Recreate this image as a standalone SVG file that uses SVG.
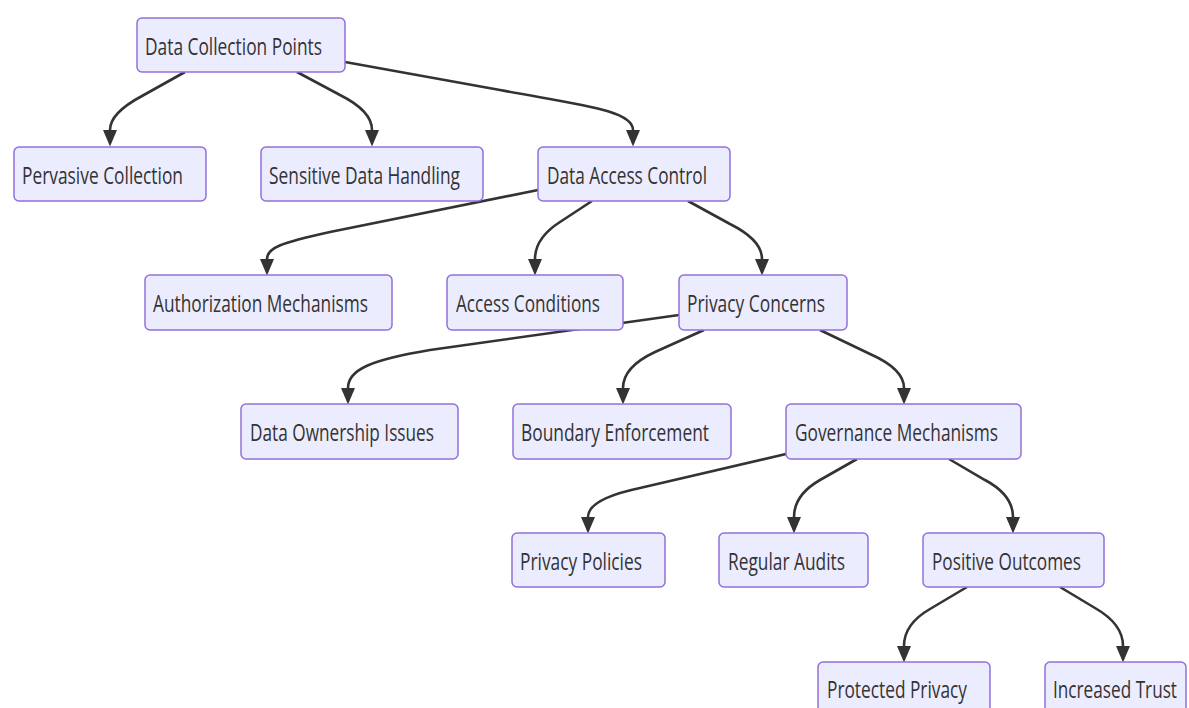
<svg xmlns="http://www.w3.org/2000/svg" width="1189" height="708" viewBox="0 0 1189 708">
<style>
.node rect{fill:#ECECFF;stroke:#9370DB;stroke-width:1.5}
.node text{font-family:"Open Sans","Noto Sans",sans-serif;font-size:23.5px;fill:#333}
.edges path{fill:none;stroke:#333;stroke-width:2.6}
</style>
<defs>
<marker id="arr" markerUnits="userSpaceOnUse" markerWidth="18" markerHeight="15" refX="0" refY="7" orient="auto">
<path d="M0,0 L16.5,7 L0,14 z" fill="#333"/>
</marker>
</defs>
<rect width="1189" height="708" fill="#fff"/>
<g class="edges">
<path d="M185,72 L142,96 Q110,113 110,130" marker-end="url(#arr)"/>
<path d="M297,72 L340,95 Q372,111 372,130" marker-end="url(#arr)"/>
<path d="M345,62 L500,90 C580,105 633,110 633,130" marker-end="url(#arr)"/>
<path d="M538,190 L330,232 C280,243 267,248 267,259" marker-end="url(#arr)"/>
<path d="M592,201 L560,222 Q535,238 535,259" marker-end="url(#arr)"/>
<path d="M688,201 L730,224 Q762,240 762,259" marker-end="url(#arr)"/>
<path d="M679,315 L430,350 C370,360 348,370 348,388" marker-end="url(#arr)"/>
<path d="M704,330 L655,352 Q623,367 623,388" marker-end="url(#arr)"/>
<path d="M820,330 L870,354 Q904,369 904,388" marker-end="url(#arr)"/>
<path d="M786,454 L640,488 Q588,499 588,517" marker-end="url(#arr)"/>
<path d="M857,459 L820,480 Q794,495 794,517" marker-end="url(#arr)"/>
<path d="M949,459 L985,480 Q1013,495 1013,517" marker-end="url(#arr)"/>
<path d="M967,587 L930,609 Q904,624 904,646" marker-end="url(#arr)"/>
<path d="M1060,587 L1095,608 Q1123,624 1123,646" marker-end="url(#arr)"/>
</g>
<g id="dcp" class="node"><rect x="137" y="18" width="208" height="54" rx="5"/><text x="145" y="54.5" textLength="177" lengthAdjust="spacingAndGlyphs">Data Collection Points</text></g>
<g id="pervasive" class="node"><rect x="14" y="147" width="192" height="54" rx="5"/><text x="22" y="183.5" textLength="161" lengthAdjust="spacingAndGlyphs">Pervasive Collection</text></g>
<g id="sensitive" class="node"><rect x="261" y="147" width="222" height="54" rx="5"/><text x="269" y="183.5" textLength="191" lengthAdjust="spacingAndGlyphs">Sensitive Data Handling</text></g>
<g id="dac" class="node"><rect x="538" y="147" width="192" height="54" rx="5"/><text x="547" y="183.5" textLength="160" lengthAdjust="spacingAndGlyphs">Data Access Control</text></g>
<g id="auth" class="node"><rect x="145" y="275" width="247" height="55" rx="5"/><text x="153" y="312" textLength="215" lengthAdjust="spacingAndGlyphs">Authorization Mechanisms</text></g>
<g id="accesscond" class="node"><rect x="447" y="275" width="176" height="55" rx="5"/><text x="456" y="312" textLength="144" lengthAdjust="spacingAndGlyphs">Access Conditions</text></g>
<g id="privconcern" class="node"><rect x="679" y="275" width="168" height="55" rx="5"/><text x="687" y="312" textLength="138" lengthAdjust="spacingAndGlyphs">Privacy Concerns</text></g>
<g id="ownership" class="node"><rect x="241" y="404" width="217" height="55" rx="5"/><text x="250" y="441" textLength="184" lengthAdjust="spacingAndGlyphs">Data Ownership Issues</text></g>
<g id="boundary" class="node"><rect x="513" y="404" width="218" height="55" rx="5"/><text x="521" y="441" textLength="188" lengthAdjust="spacingAndGlyphs">Boundary Enforcement</text></g>
<g id="governance" class="node"><rect x="786" y="404" width="235" height="55" rx="5"/><text x="795" y="441" textLength="203" lengthAdjust="spacingAndGlyphs">Governance Mechanisms</text></g>
<g id="policies" class="node"><rect x="512" y="533" width="153" height="54" rx="5"/><text x="520" y="569.5" textLength="122" lengthAdjust="spacingAndGlyphs">Privacy Policies</text></g>
<g id="audits" class="node"><rect x="719" y="533" width="149" height="54" rx="5"/><text x="728" y="569.5" textLength="117" lengthAdjust="spacingAndGlyphs">Regular Audits</text></g>
<g id="positive" class="node"><rect x="923" y="533" width="181" height="54" rx="5"/><text x="932" y="569.5" textLength="149" lengthAdjust="spacingAndGlyphs">Positive Outcomes</text></g>
<g id="protected" class="node"><rect x="818" y="662" width="172" height="54" rx="5"/><text x="827" y="697.5" textLength="140" lengthAdjust="spacingAndGlyphs">Protected Privacy</text></g>
<g id="trust" class="node"><rect x="1045" y="662" width="141" height="54" rx="5"/><text x="1053" y="697.5" textLength="124" lengthAdjust="spacingAndGlyphs">Increased Trust</text></g>
</svg>
